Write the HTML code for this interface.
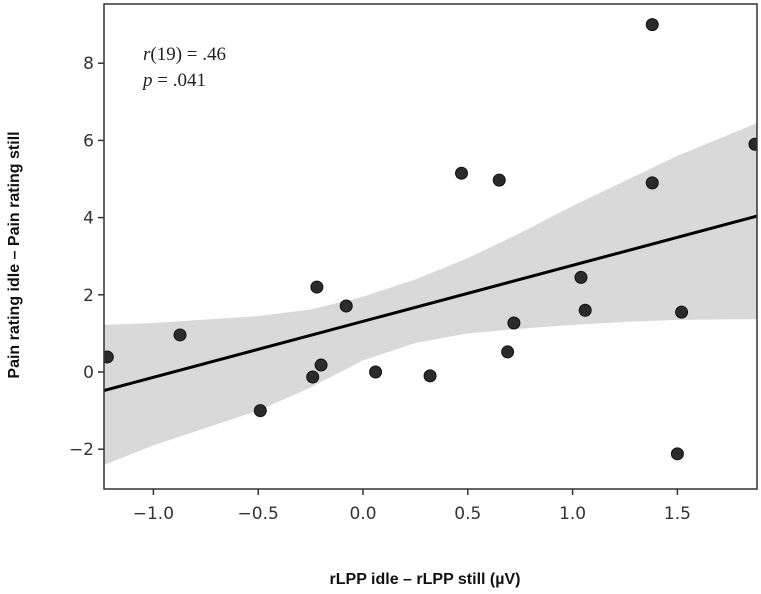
<!DOCTYPE html>
<html><head><meta charset="utf-8"><style>
body{margin:0;background:#fff;}
svg{display:block;font-family:"DejaVu Sans",sans-serif;}
</style></head><body>
<svg id="chart" width="761" height="594" viewBox="0 0 761 594">
<defs><clipPath id="clip"><rect x="104" y="4" width="653" height="485"/></clipPath></defs>
<g id="band" clip-path="url(#clip)"></g>
<g id="ticks"></g>
<line id="reg" stroke="#000" stroke-width="3"/>
<g id="pts" clip-path="url(#clip)"></g>
<rect x="104" y="4" width="653" height="485" fill="none" stroke="#333" stroke-width="1.5"/>
<text x="143" y="60" font-family="Liberation Serif,serif" font-size="19" fill="#222"><tspan font-style="italic">r</tspan>(19) = .46</text>
<text x="143" y="86" font-family="Liberation Serif,serif" font-size="19" fill="#222"><tspan font-style="italic">p</tspan> = .041</text>
<text transform="translate(19,255) rotate(-90)" text-anchor="middle" font-family="Liberation Sans,sans-serif" font-weight="bold" font-size="16" fill="#111">Pain rating idle – Pain rating still</text>
<text x="425" y="584" text-anchor="middle" font-family="Liberation Sans,sans-serif" font-weight="bold" font-size="16" fill="#111">rLPP idle – rLPP still (µV)</text>
</svg>
<script>
const xs=[-1.22,-0.873,-0.49,-0.24,-0.20,-0.22,-0.08,0.06,0.32,0.47,0.65,0.69,0.72,1.04,1.06,1.38,1.38,1.50,1.52,1.87];
const ys=[0.39,0.96,-1.0,-0.13,0.18,2.2,1.71,0.0,-0.1,5.15,4.97,0.52,1.27,2.45,1.6,9.0,4.9,-2.12,1.55,5.9];
const bandX=[-1.236,-1.0,-0.5,-0.25,0,0.25,0.5,0.75,1.0,1.25,1.5,1.88];
const bandUpper=[1.22,1.27,1.45,1.62,1.95,2.4,2.95,3.6,4.3,4.95,5.6,6.45];
const bandLower=[-2.41,-1.9,-1.0,-0.4,0.3,0.75,1.0,1.12,1.22,1.3,1.35,1.37];
const regX=[-1.236,1.88];
const regY=[-0.48,4.04];
const xTicks=[-1.0,-0.5,0.0,0.5,1.0,1.5];
const yTicks=[-2,0,2,4,6,8];
const X=v=>363+v*209.6, Y=v=>372-v*38.6;
const NS='http://www.w3.org/2000/svg';
const mk=(t,p,a)=>{const e=document.createElementNS(NS,t);for(const k in a)e.setAttribute(k,a[k]);p.appendChild(e);return e;};
let d='M'+bandX.map((x,i)=>X(x)+','+Y(bandUpper[i])).join('L');
for(let i=bandX.length-1;i>=0;i--)d+='L'+X(bandX[i])+','+Y(bandLower[i]);
const bp=mk('path',document.getElementById('band'),{d:d+'Z',fill:'#d9d9d9'});


const r=document.getElementById('reg');
r.setAttribute('x1',X(regX[0]));r.setAttribute('y1',Y(regY[0]));r.setAttribute('x2',X(regX[1]));r.setAttribute('y2',Y(regY[1]));
const tg=document.getElementById('ticks');
xTicks.forEach(v=>{
 const l=mk('line',tg,{x1:X(v),x2:X(v),y1:489,y2:495,stroke:'#333','stroke-width':1.5});
 
 
 const t=mk('text',tg,{x:X(v),y:519,'text-anchor':'middle','font-size':17,fill:'#333'});
 t.textContent=v.toFixed(1).replace('-','−');
 
 
});
yTicks.forEach(v=>{
 const l=mk('line',tg,{x1:98,x2:104,y1:Y(v),y2:Y(v),stroke:'#333','stroke-width':1.5});
 
 
 const t=mk('text',tg,{x:94,y:Y(v)+6,'text-anchor':'end','font-size':17,fill:'#333'});
 t.textContent=String(v).replace('-','−');
 
 
});
const pg=document.getElementById('pts');
xs.forEach((x,i)=>{
 const c=mk('circle',pg,{cx:X(x),cy:Y(ys[i]),r:6,fill:'#2b2b2b',stroke:'#111','stroke-width':1});
 
 
});
</script>
</body></html>
